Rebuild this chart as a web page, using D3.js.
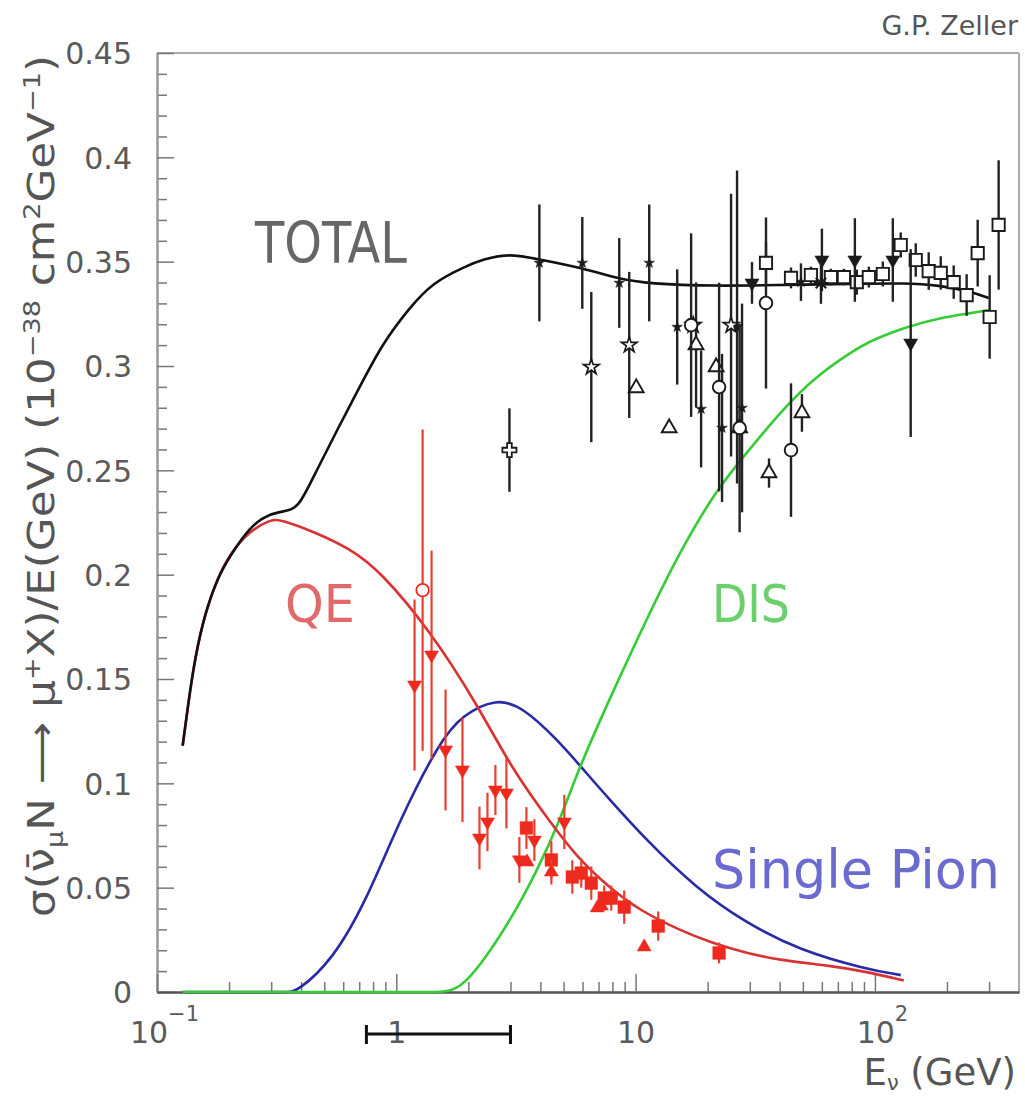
<!DOCTYPE html>
<html>
<head>
<meta charset="utf-8">
<script src="https://cdn.jsdelivr.net/npm/d3@7/dist/d3.min.js"></script>
<style>
  html, body { margin: 0; padding: 0; background: #fff; }
  svg { display: block; }
  text { font-family: "DejaVu Sans", "Liberation Sans", sans-serif; }
</style>
</head>
<body>
<svg id="chart" width="1025" height="1096"></svg>
<script>
// ---------------- axis definitions ----------------
const yTickValues = [0, 0.05, 0.1, 0.15, 0.2, 0.25, 0.3, 0.35, 0.4, 0.45];
const yTickLabels = ["0", "0.05", "0.1", "0.15", "0.2", "0.25", "0.3", "0.35", "0.4", "0.45"];
const xTickValues = [0.1, 1, 10, 100];
const xTickBase   = ["10", "1", "10", "10"];
const xTickExp    = ["\u22121", "", "", "2"];
const xMinorTicks = [0.2, 0.3, 0.4, 0.5, 0.6, 0.7, 0.8, 0.9,
                     2, 3, 4, 5, 6, 7, 8, 9,
                     20, 30, 40, 50, 60, 70, 80, 90, 200, 300];

// ---------------- model curves: [E (GeV), sigma/E] ----------------
const totalCurve = [
  [0.128, 0.118], [0.135, 0.138], [0.144, 0.160], [0.159, 0.182], [0.180, 0.199],
  [0.202, 0.209], [0.244, 0.223], [0.296, 0.2295], [0.359, 0.2305], [0.395, 0.2334],
  [0.465, 0.250], [0.564, 0.269], [0.703, 0.290], [0.877, 0.311], [1.137, 0.328],
  [1.417, 0.340], [1.965, 0.348], [2.291, 0.351], [2.97, 0.354], [3.96, 0.351],
  [5.99, 0.347], [8.30, 0.342], [11.4, 0.3393], [21.7, 0.3383], [39.7, 0.3388],
  [77.8, 0.3393], [134.6, 0.3398], [184.7, 0.3388], [253.7, 0.3355], [298.7, 0.3326]
];
const qeCurve = [
  [0.128, 0.118], [0.135, 0.138], [0.144, 0.160], [0.159, 0.182], [0.180, 0.199],
  [0.202, 0.210], [0.244, 0.221], [0.296, 0.2262], [0.326, 0.2267], [0.465, 0.2200],
  [0.639, 0.2125], [0.852, 0.2020], [1.377, 0.1735], [2.163, 0.1385], [3.056, 0.1064],
  [4.488, 0.0800], [5.817, 0.0633], [7.987, 0.0489], [10.35, 0.0393], [15.2, 0.0297],
  [20.87, 0.0235], [28.93, 0.0187], [39.72, 0.0153], [66.0, 0.0125], [91.6, 0.0098],
  [132.0, 0.0055]
];
const pionCurve = [
  [0.128, 0], [0.30, 0], [0.35, 0], [0.384, 0], [0.542, 0.0153], [0.752, 0.0441],
  [1.032, 0.0824], [1.516, 0.1200], [1.890, 0.1328], [2.620, 0.1408], [3.364, 0.1366],
  [4.665, 0.1215], [6.222, 0.1050], [7.54, 0.0940], [11.07, 0.0728], [17.89, 0.0498],
  [28.93, 0.0331], [48.13, 0.0201], [91.62, 0.0110], [128.2, 0.0081]
];
const disCurve = [
  [0.128, 0], [1.2, 0], [1.45, 0], [1.59, 0], [1.836, 0.0019], [2.226, 0.0120],
  [3.056, 0.0359], [3.849, 0.0575], [4.80, 0.0815], [5.817, 0.1078], [7.987, 0.1433],
  [11.07, 0.1783], [15.2, 0.2104], [21.7, 0.2406], [29.78, 0.2597], [40.88, 0.2789],
  [56.67, 0.2950], [77.84, 0.3060], [97.07, 0.3125], [134.6, 0.3187], [184.7, 0.3230],
  [253.7, 0.3254], [298.7, 0.3268]
];

// ---------------- measurements: [E (GeV), sigma/E, error] ----------------
// total charged-current antineutrino data
const totFilledStar = [
  [3.961, 0.3494, 0.028], [5.987, 0.3494, 0.022], [8.543, 0.3398, 0.0215],
  [11.40, 0.3494, 0.028], [14.92, 0.3187, 0.0276], [18.78, 0.2794, 0.028],
  [22.97, 0.2703, 0.0355], [26.54, 0.3187, 0.075], [27.84, 0.2799, 0.05],
  [49.08, 0.3402, 0.009]
];
const totOpenStar = [
  [6.528, 0.2995, 0.036], [9.404, 0.3101, 0.035], [17.4, 0.3196, 0], [25.05, 0.3196, 0.063]
];
const totOpenTriangle = [
  [10.06, 0.2895, 0], [13.81, 0.2703, 0], [17.89, 0.3101, 0.03], [21.70, 0.2995, 0],
  [27.2, 0.2703, 0.05], [36.09, 0.2487, 0.007], [49.55, 0.2775, 0.009]
];
const totOpenCircle = [
  [17.06, 0.3196, 0.044], [22.33, 0.2899, 0.05], [27.2, 0.2703, 0],
  [35.06, 0.3302, 0.041], [44.60, 0.2597, 0.032]
];
const totOpenSquare = [
  [35.06, 0.3494, 0.01], [44.60, 0.3422, 0.005], [54.02, 0.3436, 0.004],
  [65.46, 0.3426, 0.004], [74.19, 0.3426, 0.004], [84.0, 0.3402, 0.006],
  [94.32, 0.3426, 0.005], [107.9, 0.3441, 0.006], [128.2, 0.3580, 0.006],
  [148.1, 0.3508, 0.008], [167.8, 0.3455, 0.009], [188.4, 0.3446, 0.008],
  [213.4, 0.3402, 0.008], [241.7, 0.3340, 0.01], [268.8, 0.3541, 0.016],
  [301.6, 0.3235, 0.02], [328.8, 0.3676, 0.031]
];
const totFilledTriDown = [
  [30.64, 0.3398, 0.01], [60.04, 0.3508, 0.015], [82.45, 0.3508, 0.02],
  [118.8, 0.3508, 0.02], [141.1, 0.3110, 0.045]
];
const totAsterisk = [[59.5, 0.3398, 0.01]];
const totOpenCross = [[2.970, 0.2597, 0.02]];

// quasi-elastic antineutrino data
const qeOpenCircle = [[1.288, 0.1926, 0.077]];
const qeTriDown = [
  [1.192, 0.1471, 0.041], [1.404, 0.1615, 0.05], [1.606, 0.1160, 0.029],
  [1.890, 0.1064, 0.025], [2.226, 0.0738, 0.015], [2.404, 0.0815, 0.014],
  [2.595, 0.0968, 0.012], [2.885, 0.0954, 0.017], [3.268, 0.0633, 0.011],
  [3.776, 0.0728, 0.01], [5.036, 0.0815, 0.013]
];
const qeSquare = [
  [3.497, 0.0786, 0.01], [4.445, 0.0633, 0.009], [5.438, 0.0551, 0.008],
  [5.930, 0.0570, 0.007], [6.528, 0.0522, 0.008], [7.396, 0.0450, 0.006],
  [7.910, 0.0450, 0.006], [8.962, 0.0407, 0.008], [12.43, 0.0316, 0.007],
  [22.33, 0.0187, 0.005]
];
const qeTriUp = [
  [3.52, 0.0623, 0], [4.445, 0.0575, 0.006], [6.916, 0.0403, 0],
  [7.2, 0.0412, 0], [10.86, 0.0216, 0]
];

// energy span shown under the axis
const energySpan = [0.75, 3.0];

// ---------------- layout ----------------
const svg = d3.select("#chart");
const x = d3.scaleLog().domain([0.1, 400]).range([157, 1019]);
const y = d3.scaleLinear().domain([0, 0.45]).range([992, 53]);

const axisCol = "#777";

// frame
svg.append("line").attr("x1", 157).attr("x2", 1019).attr("y1", 53).attr("y2", 53)
  .attr("stroke", "#aaa").attr("stroke-width", 2);
svg.append("line").attr("x1", 1019).attr("x2", 1019).attr("y1", 53).attr("y2", 992)
  .attr("stroke", "#aaa").attr("stroke-width", 2);

// y axis: major + minor ticks pointing inwards
const yMinor = d3.range(0, 0.4501, 0.01).filter(v => Math.abs(v * 20 - Math.round(v * 20)) > 1e-6);
const yMinorG = svg.append("g").attr("transform", "translate(157,0)")
  .call(d3.axisLeft(y).tickValues(yMinor).tickSizeInner(-10).tickSizeOuter(0).tickFormat(""));
const yAxisG = svg.append("g").attr("transform", "translate(157,0)")
  .call(d3.axisLeft(y).tickValues(yTickValues).tickSizeInner(-17).tickSizeOuter(0)
    .tickPadding(25).tickFormat((d, i) => yTickLabels[i]));
[yMinorG, yAxisG].forEach(g => {
  g.select(".domain").attr("stroke", "#999").attr("stroke-width", 2);
  g.selectAll(".tick line").attr("stroke", axisCol).attr("stroke-width", 1.5);
});
yAxisG.selectAll(".tick text").attr("font-size", 30).attr("fill", "#5a5a5a")
  .attr("font-family", "DejaVu Sans, sans-serif").attr("dy", "0.36em");

// x axis
const xMinorG = svg.append("g").attr("transform", "translate(0,992)")
  .call(d3.axisBottom(x).tickValues(xMinorTicks).tickSizeInner(-10).tickSizeOuter(0).tickFormat(""));
const xAxisG = svg.append("g").attr("transform", "translate(0,992)")
  .call(d3.axisBottom(x).tickValues(xTickValues).tickSizeInner(-18).tickSizeOuter(0)
    .tickPadding(30).tickFormat(""));
[xMinorG, xAxisG].forEach(g => {
  g.select(".domain").attr("stroke", "#555").attr("stroke-width", 2.2);
  g.selectAll(".tick line").attr("stroke", axisCol).attr("stroke-width", 1.5);
});
xAxisG.selectAll(".tick text").each(function (d, i) {
  const t = d3.select(this)
    .attr("font-size", 30).attr("fill", "#5a5a5a")
    .attr("font-family", "DejaVu Sans, sans-serif")
    .attr("dy", "0.71em");
  t.text(null);
  t.append("tspan").text(xTickBase[i]);
  if (xTickExp[i]) {
    t.attr("dx", 7);
    t.append("tspan").attr("dy", -22).attr("font-size", 21).text(xTickExp[i]);
  }
});

// ---------------- curves ----------------
const line = d3.line().x(d => x(d[0])).y(d => y(d[1])).curve(d3.curveBasis);
const curveG = svg.append("g").attr("fill", "none").attr("stroke-width", 2.6)
  .attr("stroke-linejoin", "round");
curveG.append("path").datum(pionCurve).attr("d", line).attr("stroke", "#2a2aa6");
curveG.append("path").datum(disCurve).attr("d", line).attr("stroke", "#35cc35");
curveG.append("path").datum(qeCurve).attr("d", line).attr("stroke", "#d83232");
curveG.append("path").datum(totalCurve).attr("d", line).attr("stroke", "#111");

// ---------------- markers ----------------
const asterisk = {
  draw(ctx, size) {
    const r = Math.sqrt(size) / 2;
    const d = r * Math.SQRT1_2;
    ctx.moveTo(-r, 0); ctx.lineTo(r, 0);
    ctx.moveTo(0, -r); ctx.lineTo(0, r);
    ctx.moveTo(-d, -d); ctx.lineTo(d, d);
    ctx.moveTo(-d, d); ctx.lineTo(d, -d);
  }
};

function drawSeries(data, opt) {
  const g = svg.append("g");
  g.selectAll("line.err").data(data.filter(d => d[2] > 0)).join("line")
    .attr("class", "err")
    .attr("x1", d => x(d[0])).attr("x2", d => x(d[0]))
    .attr("y1", d => y(d[1] - d[2])).attr("y2", d => y(d[1] + d[2]))
    .attr("stroke", opt.barColor).attr("stroke-width", opt.barWidth);
  const sym = d3.symbol().type(opt.type).size(opt.size);
  g.selectAll("path.mk").data(data).join("path")
    .attr("class", "mk")
    .attr("d", sym)
    .attr("transform", d => `translate(${x(d[0])},${y(d[1])})` + (opt.rotate ? ` rotate(${opt.rotate})` : ""))
    .attr("fill", opt.fill).attr("stroke", opt.stroke).attr("stroke-width", opt.strokeWidth || 0);
}

const blk = "#1a1a1a";
const bBar = { barColor: "#222", barWidth: 2.4 };
drawSeries(totOpenCross, { ...bBar, type: d3.symbolCross, size: 110, fill: "#fff", stroke: blk, strokeWidth: 1.8 });
drawSeries(totFilledStar, { ...bBar, type: d3.symbolStar, size: 36, fill: blk, stroke: blk, strokeWidth: 0.5 });
drawSeries(totOpenStar, { ...bBar, type: d3.symbolStar, size: 75, fill: "#fff", stroke: blk, strokeWidth: 1.7 });
drawSeries(totOpenTriangle, { ...bBar, type: d3.symbolTriangle, size: 95, fill: "#fff", stroke: blk, strokeWidth: 1.9 });
drawSeries(totOpenCircle, { ...bBar, type: d3.symbolCircle, size: 125, fill: "#fff", stroke: blk, strokeWidth: 1.9 });
drawSeries(totOpenSquare, { ...bBar, type: d3.symbolSquare, size: 150, fill: "#fff", stroke: blk, strokeWidth: 1.9 });
drawSeries(totFilledTriDown, { ...bBar, type: d3.symbolTriangle, size: 85, fill: blk, stroke: blk, strokeWidth: 0.5, rotate: 180 });
drawSeries(totAsterisk, { ...bBar, type: asterisk, size: 220, fill: "none", stroke: blk, strokeWidth: 2 });

const red = "#ee2a1e";
const rBar = { barColor: "#e8402f", barWidth: 2.2 };
drawSeries(qeOpenCircle, { ...rBar, type: d3.symbolCircle, size: 125, fill: "#fff", stroke: red, strokeWidth: 1.8 });
drawSeries(qeTriDown, { ...rBar, type: d3.symbolTriangle, size: 85, fill: red, stroke: red, strokeWidth: 0.5, rotate: 180 });
drawSeries(qeSquare, { ...rBar, type: d3.symbolSquare, size: 160, fill: red, stroke: red, strokeWidth: 0.5 });
drawSeries(qeTriUp, { ...rBar, type: d3.symbolTriangle, size: 85, fill: red, stroke: red, strokeWidth: 0.5 });

// energy span bar under the axis
const spanG = svg.append("g").attr("stroke", "#111").attr("stroke-width", 3);
spanG.append("line").attr("x1", x(energySpan[0])).attr("x2", x(energySpan[1]))
  .attr("y1", 1034).attr("y2", 1034);
energySpan.forEach(e => spanG.append("line").attr("x1", x(e)).attr("x2", x(e))
  .attr("y1", 1025).attr("y2", 1044));

// ---------------- labels ----------------
function label(txt, px, py, size, color, len) {
  const t = svg.append("text").attr("x", px).attr("y", py).attr("font-size", size)
    .attr("fill", color).attr("font-family", "Liberation Sans, Arial, sans-serif").text(txt);
  if (len) t.attr("textLength", len).attr("lengthAdjust", "spacingAndGlyphs");
  return t;
}
label("TOTAL", 255, 263, 57, "#666", 152);
label("QE", 285, 622, 52, "#e06a6a", 70);
label("DIS", 712, 622, 52, "#6bcf6b", 78);
label("Single Pion", 712, 888, 53, "#6a6ad0", 288);

svg.append("text").attr("x", 1018).attr("y", 35).attr("text-anchor", "end")
  .attr("font-size", 27).attr("fill", "#555").text("G.P. Zeller");

// x axis title
const xt = svg.append("text").attr("x", 1016).attr("y", 1085).attr("text-anchor", "end")
  .attr("font-size", 37).attr("fill", "#555");
xt.append("tspan").text("E");
xt.append("tspan").attr("font-size", 21).attr("dy", 5).text("\u03bd");
xt.append("tspan").attr("dy", -5).text(" (GeV)");

// y axis title (rotated, stretched along its reading direction to span the axis)
const yParts = [
  { t: "\u03c3(" }, { t: "\u03bd\u0304" }, { t: "\u03bc", sub: true }, { t: "N " },
  { t: "\u27f6" }, { t: " \u03bc" }, { t: "+", sup: true }, { t: "X)/E(GeV)  (10" },
  { t: "\u221238", sup: true }, { t: " cm" }, { t: "2", sup: true }, { t: "GeV" },
  { t: "\u22121", sup: true }, { t: ")" }
];
const yt = svg.append("text").attr("transform", "translate(54,486) rotate(-90)")
  .attr("text-anchor", "middle").attr("font-size", 37).attr("fill", "#555");
let shift = 0;
yParts.forEach(p => {
  const target = p.sub ? 9 : p.sup ? -14 : 0;
  const ts = yt.append("tspan").attr("dy", target - shift).text(p.t);
  if (p.sub || p.sup) ts.attr("font-size", 23);
  shift = target;
});
const ytLen = yt.node().getComputedTextLength();
yt.attr("transform", `translate(54,486) rotate(-90) scale(${862 / ytLen},1)`);
</script>
</body>
</html>
